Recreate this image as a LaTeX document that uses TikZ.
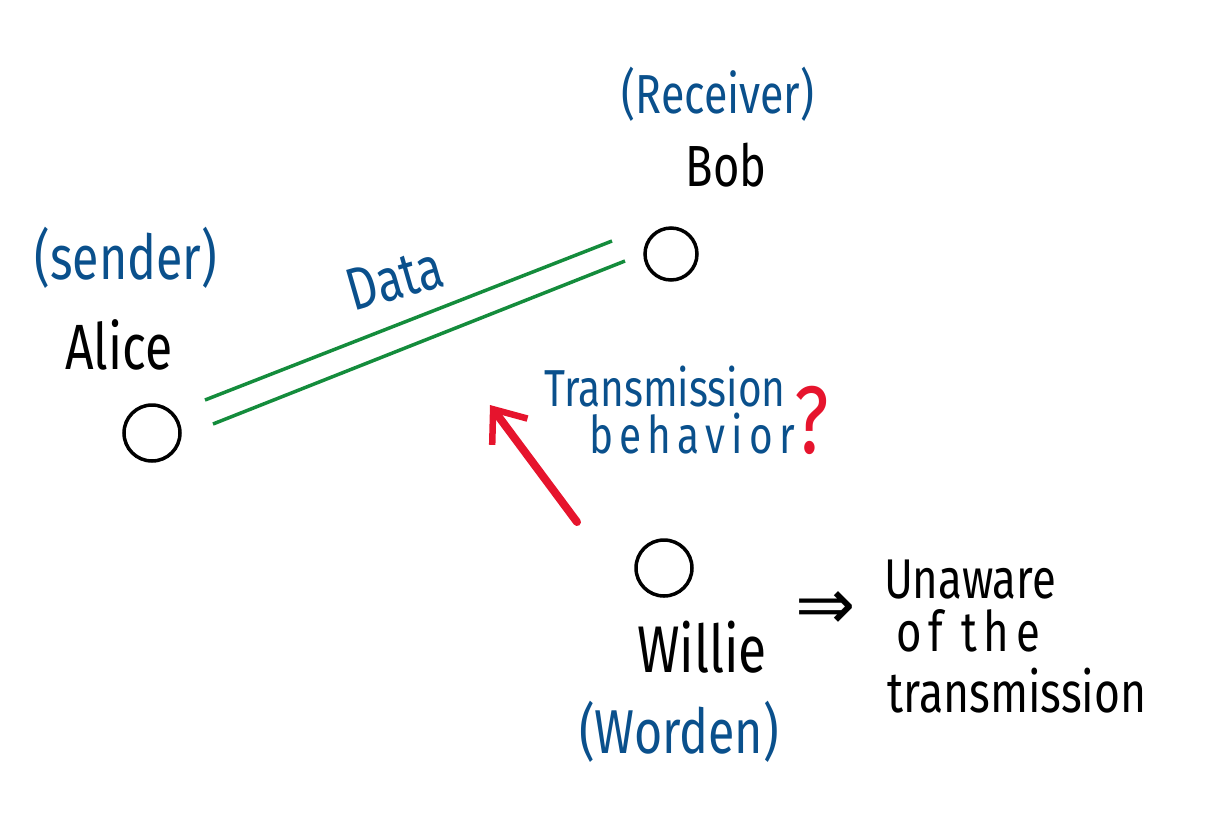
\documentclass[tikz,border=0pt]{standalone}
\usepackage{fontspec}
\newfontfamily\hand[FakeStretch=0.78]{Fira Sans}
\newfontfamily\handwide[FakeStretch=0.78,LetterSpace=12]{Fira Sans}
\newfontfamily\symfont{DejaVu Sans}
\usetikzlibrary{arrows.meta}
\definecolor{inkblue}{RGB}{10,80,140}
\definecolor{inkgreen}{RGB}{20,140,60}
\definecolor{inkred}{RGB}{230,20,45}
\newcommand{\fs}[1]{\fontsize{#1}{#1}\selectfont}
\tikzset{
  party/.style={circle,draw=black,line width=3.5pt,minimum size=56pt,inner sep=0pt},
  blacktxt/.style={font=\hand\fs{60},text=black,inner sep=0pt},
  bluetxt/.style={font=\hand\fs{58},text=inkblue,inner sep=0pt},
  dataline/.style={draw=inkgreen,line width=3.5pt},
  questarrow/.style={draw=inkred,line width=8pt,line cap=round,-{Straight Barb[length=28pt,width=44pt,line width=6.5pt]}},
}
\begin{document}
\begin{tikzpicture}[x=1pt,y=-1pt]
\useasboundingbox (0,0) rectangle (1218,839);
% parties
\node[party] (alice) at (152,433) {};
\node[party,minimum size=52pt] (bob) at (671,254) {};
\node[party] (willie) at (664,568) {};
% labels
\node[bluetxt,font=\hand\fs{62}] (sender) at (126,258) {(sender)};
\node[blacktxt,font=\hand\fs{64}] (alicename) at (119,345) {Alice};
\node[bluetxt,font=\hand\fs{55}] (receiver) at (718,94) {(Receiver)};
\node[blacktxt,font=\hand\fs{58}] (bobname) at (726,165) {Bob};
\node[blacktxt,font=\hand\fs{66}] (williename) at (702,647) {Willie};
\node[bluetxt,font=\hand\fs{62}] (warden) at (679,732) {(Worden)};
\node[bluetxt,font=\hand\fs{60},rotate=16] (data) at (395,279) {Data};
\node[bluetxt,font=\hand\fs{52}] (trans) at (665,387) {Transmission};
\node[bluetxt,font=\handwide\fs{52}] (behav) at (692,434) {behavior};
\node[inkred,font=\hand\fs{96},inner sep=0pt] (quest) at (812,420) {?};
\node[font=\symfont\fs{72},inner sep=0pt] (implies) at (826,611) {⇒};
\node[blacktxt,font=\hand\fs{56}] (unaware) at (970,580) {Unaware};
\node[blacktxt,font=\handwide\fs{56}] (ofthe) at (968,631) {of the};
\node[blacktxt,font=\hand\fs{57}] (transm) at (1017,691) {transmission};
% data link
\coordinate (a1) at (205,400);
\coordinate (b1) at (612,241);
\coordinate (a2) at (213,424);
\coordinate (b2) at (625,261);
\draw[dataline] (a1) -- (b1);
\draw[dataline] (a2) -- (b2);
% observation arrow
\coordinate (wstart) at (577,522);
\coordinate (wend) at (490,405);
\draw[questarrow] (wstart) -- (wend);
\end{tikzpicture}
\end{document}
